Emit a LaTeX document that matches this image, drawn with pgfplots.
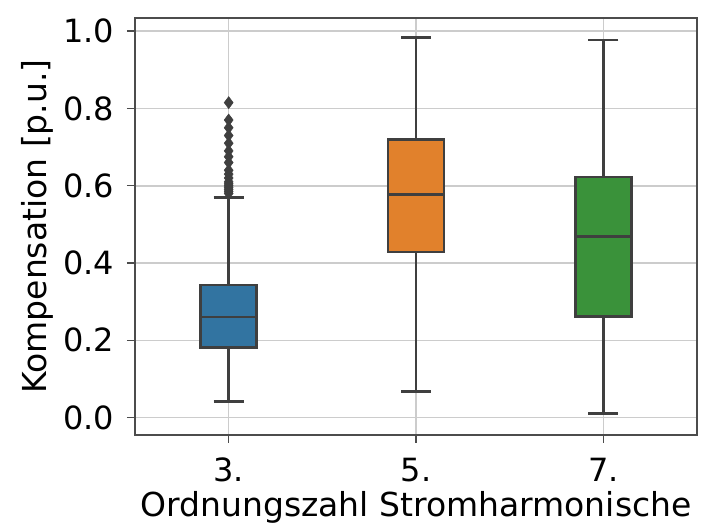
\documentclass[border=0pt]{standalone}
\usepackage{fontspec}
\setmainfont{DejaVu Sans}
\usepackage{pgfplots}
\pgfplotsset{compat=1.18}
\usepgfplotslibrary{statistics}
\definecolor{sbblue}{HTML}{3274A1}
\definecolor{sborange}{HTML}{E1812C}
\definecolor{sbgreen}{HTML}{3A923A}
\definecolor{edgegray}{HTML}{3F3F3F}
\begin{document}
\fontsize{32bp}{38bp}\selectfont
\begin{tikzpicture}
\begin{axis}[
  scale only axis,
  width=562bp, height=417bp,
  xmin=-0.5, xmax=2.5,
  ymin=-0.045, ymax=1.034,
  xtick={0,1,2},
  xticklabels={3.,5.,7.},
  ytick={0,0.2,0.4,0.6,0.8,1.0},
  yticklabel style={/pgf/number format/fixed,/pgf/number format/fixed zerofill,/pgf/number format/precision=1},
  /pgf/number format/assume math mode=true,
  tick label style={font=\fontsize{32bp}{38bp}\selectfont},
  label style={font=\fontsize{33bp}{40bp}\selectfont},
  xlabel={Ordnungszahl Stromharmonische},
  ylabel={Kompensation [p.u.]},
  xlabel style={yshift=12bp},
  ylabel style={yshift=-12bp},
  grid=major,
  major grid style={color=black!20, line width=1.6bp},
  axis line style={color=black!70, line width=2.2bp},
  tick style={color=black!70, line width=1.5bp},
  tick align=outside,
  major tick length=8bp,
  xtick pos=bottom, ytick pos=left,
  yticklabel shift=2bp,
  xticklabel shift=4bp,
  boxplot/draw direction=y,
  boxplot/box extend=0.3,
  boxplot/whisker extend=0.16,
  boxplot/every whisker/.style={line width=2.6bp, draw=edgegray},
  boxplot/every median/.style={line width=2.6bp, draw=edgegray},
  boxplot/every box/.style={line width=2.6bp, draw=edgegray},
]
\addplot+[boxplot prepared={draw position=0, lower whisker=0.042, lower quartile=0.182, median=0.26, upper quartile=0.343, upper whisker=0.569},
  draw=edgegray, fill=sbblue, line width=2.6bp, solid,
  mark=diamond*, mark size=6bp, mark options={fill=edgegray, draw=edgegray, line width=0.5bp}]
  coordinates {(0,0.815) (0,0.77) (0,0.75) (0,0.73) (0,0.71) (0,0.69) (0,0.675) (0,0.66) (0,0.64) (0,0.63) (0,0.62) (0,0.61) (0,0.605) (0,0.60) (0,0.595) (0,0.59) (0,0.585) (0,0.58)};
\addplot+[boxplot prepared={draw position=1, lower whisker=0.068, lower quartile=0.429, median=0.577, upper quartile=0.72, upper whisker=0.984},
  draw=edgegray, fill=sborange, line width=2.6bp, solid, mark=none]
  coordinates {};
\addplot+[boxplot prepared={draw position=2, lower whisker=0.01, lower quartile=0.262, median=0.468, upper quartile=0.623, upper whisker=0.977},
  draw=edgegray, fill=sbgreen, line width=2.6bp, solid, mark=none]
  coordinates {};
\end{axis}
\path (current axis.south west) ++(-135bp,-97bp) coordinate (bbA);
\path (current axis.north east) ++(14bp,18bp) coordinate (bbB);
\pgfresetboundingbox
\path[use as bounding box] (bbA) rectangle (bbB);
\end{tikzpicture}
\end{document}
